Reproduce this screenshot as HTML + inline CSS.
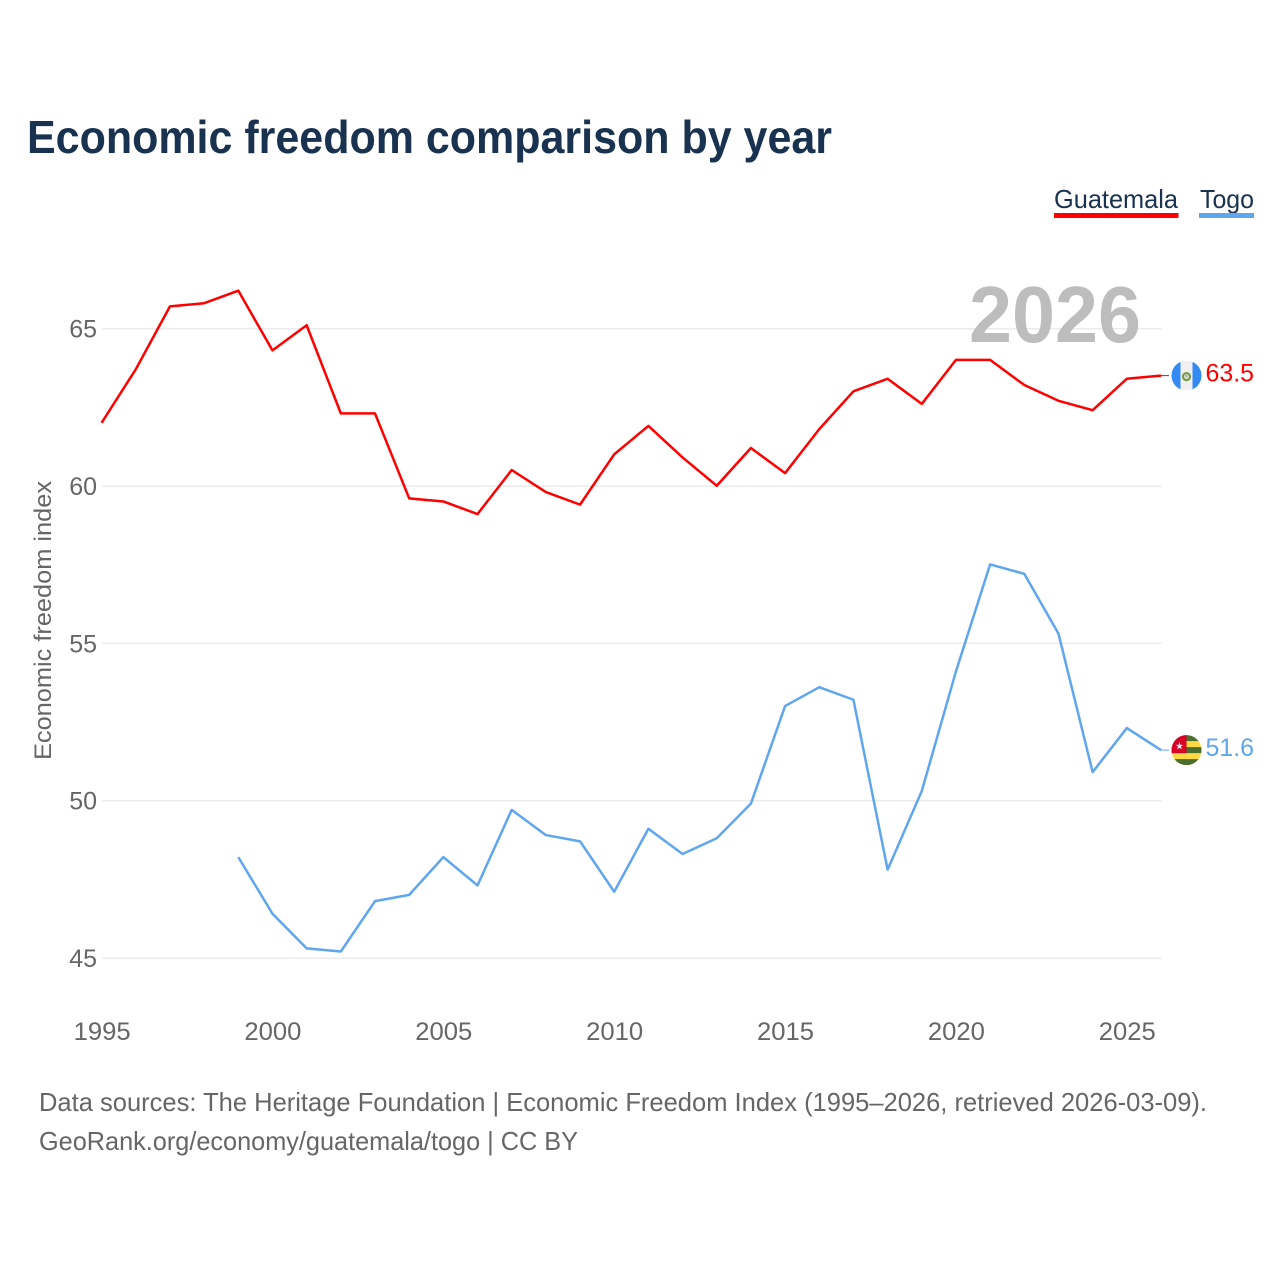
<!DOCTYPE html>
<html lang="en">
<head>
<meta charset="utf-8">
<title>Economic freedom comparison by year</title>
<style>
html,body{margin:0;padding:0;background:#fff;}
svg{display:block;font-family:"Liberation Sans",sans-serif;}
</style>
</head>
<body>
<svg id="chart" width="1280" height="1280" viewBox="0 0 1280 1280" xmlns="http://www.w3.org/2000/svg">
  <defs>
    <clipPath id="flag-clip"><circle cx="0" cy="0" r="15"></circle></clipPath>
  </defs>
  <rect width="1280" height="1280" fill="#fff"></rect>
  <text x="27" y="153" font-size="46" font-weight="700" fill="#18324f" textLength="805" lengthAdjust="spacingAndGlyphs">Economic freedom comparison by year</text>

  <g>
    <g>
      <text x="1054" y="208" font-size="26" fill="#18324f" textLength="124" lengthAdjust="spacingAndGlyphs">Guatemala</text>
      <rect x="1054" y="213" width="124.500" height="5" fill="#ff0000"></rect>
    </g>
    <g>
      <text x="1200" y="208" font-size="26" fill="#18324f" textLength="54" lengthAdjust="spacingAndGlyphs">Togo</text>
      <rect x="1199" y="213" width="55" height="5" fill="#5fa6ee"></rect>
    </g>
  </g>

  <text transform="translate(51,760) rotate(-90)" font-size="24" fill="#666" textLength="279" lengthAdjust="spacingAndGlyphs">Economic freedom index</text>
  <g id="grid"></g>
  <g id="yticks"></g>
  <g id="xticks"></g>

  <text x="1141" y="342" font-size="80" font-weight="700" fill="#bdbdbd" text-anchor="end" textLength="172" lengthAdjust="spacingAndGlyphs">2026</text>

  <g id="series"></g>
  <g id="ends"></g>

  <text x="39" y="1111" font-size="26" fill="#666" textLength="1168" lengthAdjust="spacingAndGlyphs">Data sources: The Heritage Foundation | Economic Freedom Index (1995–2026, retrieved 2026-03-09).</text>
  <text x="39" y="1150" font-size="26" fill="#666" textLength="539" lengthAdjust="spacingAndGlyphs">GeoRank.org/economy/guatemala/togo | CC BY</text>
</svg>
<script>
const guatemalaYears = [1995,1996,1997,1998,1999,2000,2001,2002,2003,2004,2005,2006,2007,2008,2009,2010,2011,2012,2013,2014,2015,2016,2017,2018,2019,2020,2021,2022,2023,2024,2025,2026];
const guatemalaValues = [62.0,63.7,65.7,65.8,66.2,64.3,65.1,62.3,62.3,59.6,59.5,59.1,60.5,59.8,59.4,61.0,61.9,60.9,60.0,61.2,60.4,61.8,63.0,63.4,62.6,64.0,64.0,63.2,62.7,62.4,63.4,63.5];
const togoYears = [1999,2000,2001,2002,2003,2004,2005,2006,2007,2008,2009,2010,2011,2012,2013,2014,2015,2016,2017,2018,2019,2020,2021,2022,2023,2024,2025,2026];
const togoValues = [48.2,46.4,45.3,45.2,46.8,47.0,48.2,47.3,49.7,48.9,48.7,47.1,49.1,48.3,48.8,49.9,53.0,53.6,53.2,47.8,50.3,54.1,57.5,57.2,55.3,50.9,52.3,51.6];
const yTickLabels = [45,50,55,60,65];
const xTickLabels = [1995,2000,2005,2010,2015,2020,2025];

const NS = 'http://www.w3.org/2000/svg';
const x = yr => 101.6 + (yr - 1995) * (1161 - 101.6) / 31;
const y = v => 957.8 - (v - 45) * 31.47;
function mk(tag, attrs, parent, text) {
  const el = document.createElementNS(NS, tag);
  for (const k in attrs) el.setAttribute(k, attrs[k]);
  if (text !== undefined) el.textContent = text;
  parent.appendChild(el);
  return el;
}
const grid = document.getElementById('grid');
const yticks = document.getElementById('yticks');
const xticks = document.getElementById('xticks');
const series = document.getElementById('series');
const ends = document.getElementById('ends');

yTickLabels.forEach(t => {
  const gy = Math.round(y(t) * 2) / 2 + 0.3;
  const line = mk('line', {x1: 102, x2: 1161.500, y1: gy, y2: gy, stroke: '#ebebeb', 'stroke-width': 1.5}, grid);
  
  
  const lab = mk('text', {x: 97, y: y(t) + 9.2, 'font-size': 25, fill: '#666', 'text-anchor': 'end'}, yticks, String(t));
  
  
});
xTickLabels.forEach((t, i) => {
  const first = i === 0;
  const lab = mk('text', {x: first ? x(t) - 28 : x(t) + 0.4, y: 1040, 'font-size': 25, fill: '#666', 'text-anchor': first ? 'start' : 'middle', textLength: 57, lengthAdjust: 'spacingAndGlyphs'}, xticks, String(t));
  
  
});

function pathFor(years, values) {
  return years.map((yr, i) => (i ? 'L' : 'M') + x(yr).toFixed(2) + ' ' + y(values[i]).toFixed(2)).join(' ');
}

const gLine = mk('path', {d: pathFor(guatemalaYears, guatemalaValues), fill: 'none', stroke: '#ff0000', 'stroke-width': 2.5, 'stroke-linejoin': 'round'}, series);


const tLine = mk('path', {d: pathFor(togoYears, togoValues), fill: 'none', stroke: '#5fa6ee', 'stroke-width': 2.5, 'stroke-linejoin': 'round'}, series);



function endGroup(years, values, color, draw, name) {
  const last = values[values.length - 1];
  const lx = x(years[years.length - 1]);
  const ly = y(last);
  const conn = mk('line', {x1: lx, x2: lx + 8, y1: ly, y2: ly, stroke: color, 'stroke-width': 1}, ends);
  
  
  const flag = mk('g', {transform: 'translate(1186.5,' + ly + ')', 'clip-path': 'url(#flag-clip)'}, ends);
  
  
  draw(flag);
  const lab = mk('text', {x: 1205.500, y: ly + 6, 'font-size': 25, fill: color, textLength: 48.500, lengthAdjust: 'spacingAndGlyphs'}, ends, last.toFixed(1));
  
  
}

endGroup(guatemalaYears, guatemalaValues, '#ff0000', f => {
  mk('rect', {x: -15, y: -15, width: 30, height: 30, fill: '#f0f0f0'}, f);
  mk('rect', {x: -15, y: -15, width: 9, height: 30, fill: '#338af3'}, f);
  mk('rect', {x: 6, y: -15, width: 9, height: 30, fill: '#338af3'}, f);
  mk('ellipse', {cx: 0, cy: 1, rx: 3.500, ry: 3.500, fill: 'none', stroke: '#7a9a4a', 'stroke-width': 2.2}, f);
  mk('circle', {cx: 0, cy: 0.5, r: 1.500, fill: '#b8b8a8'}, f);
}, 'guatemala');

endGroup(togoYears, togoValues, '#5fa6ee', f => {
  mk('rect', {x: -15, y: -15, width: 30, height: 30, fill: '#ffda44'}, f);
  mk('rect', {x: -15, y: -15, width: 30, height: 6, fill: '#496e2d'}, f);
  mk('rect', {x: -15, y: -3, width: 30, height: 6, fill: '#496e2d'}, f);
  mk('rect', {x: -15, y: 9, width: 30, height: 6, fill: '#496e2d'}, f);
  mk('rect', {x: -15, y: -15, width: 15, height: 18, fill: '#d80027'}, f);
  mk('polygon', {points: '-7,-8 -6.100,-5.200 -3.200,-5.200 -5.500,-3.500 -4.700,-0.700 -7,-2.400 -9.300,-0.700 -8.500,-3.500 -10.800,-5.200 -7.900,-5.200', fill: '#f0f0f0'}, f);
}, 'togo');
</script>
</body>
</html>
